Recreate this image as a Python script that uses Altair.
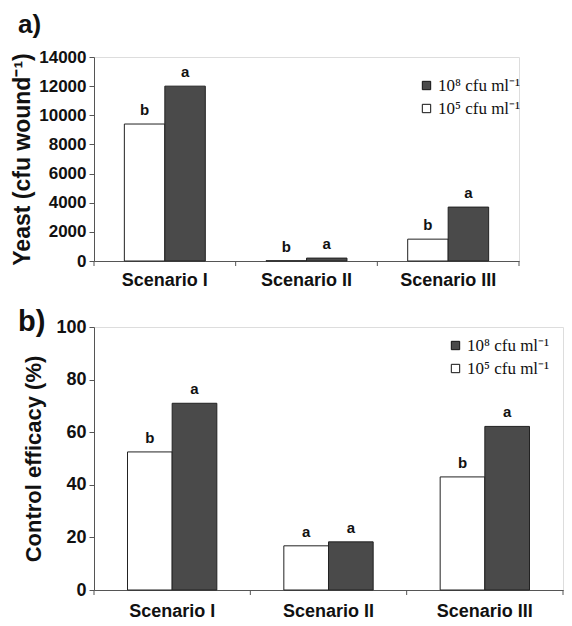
import altair as alt
import pandas as pd

SANS = "Liberation Sans"
SERIF = "Liberation Serif"

scenarios = ["Scenario I", "Scenario II", "Scenario III"]
doses = ["10⁵ cfu ml⁻¹", "10⁸ cfu ml⁻¹"]  # low, high

yeast_low = [9400, 20, 1500]
yeast_high = [12000, 200, 3700]
yeast_letters_low = ["b", "b", "b"]
yeast_letters_high = ["a", "a", "a"]

eff_low = [52.5, 16.8, 43.0]
eff_high = [71.0, 18.3, 62.2]
eff_letters_low = ["b", "a", "b"]
eff_letters_high = ["a", "a", "a"]


def make_df(low, high, ll, lh):
    rows = []
    for s, v, l in zip(scenarios, low, ll):
        rows.append({"scenario": s, "dose": doses[0], "value": v, "letter": l})
    for s, v, l in zip(scenarios, high, lh):
        rows.append({"scenario": s, "dose": doses[1], "value": v, "letter": l})
    return pd.DataFrame(rows)


def panel(df, ymax, ystep, ytitle, tag, w, h, lx, ly, tx, ty, tag_size,
          title_pad, lab_size, title_size, xlab_pad):
    xs = alt.Scale(paddingInner=0, paddingOuter=0)
    xo = alt.XOffset("dose:N", sort=doses,
                     scale=alt.Scale(paddingInner=0, paddingOuter=0.75))
    x = alt.X("scenario:N", sort=scenarios, title=None, scale=xs,
              axis=alt.Axis(labelAngle=0, ticks=False, labelFont=SANS,
                            labelFontSize=18, labelFontWeight="bold",
                            labelColor="#111", labelPadding=xlab_pad,
                            domainColor="#555", domainWidth=1))
    y = alt.Y("value:Q", title=ytitle,
              scale=alt.Scale(domain=[0, ymax], nice=False),
              axis=alt.Axis(values=list(range(0, ymax + 1, ystep)), grid=False,
                            format="d", labelOverlap=False,
                            labelFont=SANS, labelFontSize=lab_size,
                            labelFontWeight="bold", labelColor="#111",
                            tickSize=5, tickColor="#555", domainColor="#555",
                            labelPadding=3, titleFont=SANS,
                            titleFontSize=title_size,
                            titleFontWeight="bold", titleColor="#111",
                            titlePadding=title_pad))
    color = alt.Color("dose:N",
                      scale=alt.Scale(domain=[doses[1], doses[0]],
                                      range=["#4a4a4a", "#ffffff"]),
                      legend=alt.Legend(title=None, orient="none", legendX=lx,
                                        legendY=ly, symbolType="square",
                                        symbolSize=70, symbolStrokeColor="#111",
                                        symbolStrokeWidth=1, labelFont=SERIF,
                                        labelFontSize=17, labelColor="#111",
                                        rowPadding=5, labelOffset=3))
    bars = alt.Chart(df).mark_bar(stroke="#222", strokeWidth=1).encode(
        x=x, xOffset=xo, y=y, color=color)
    letters = alt.Chart(df).mark_text(
        baseline="alphabetic", dy=-9, font=SANS, fontWeight="bold",
        fontSize=15, color="#111").encode(
        x=x, xOffset=xo, y=y, text="letter:N")
    tick_df = pd.DataFrame({"scenario": scenarios})
    ticks = alt.Chart(tick_df).mark_rule(color="#555").encode(
        x=alt.X("scenario:N", sort=scenarios, bandPosition=0),
        y=alt.value(h), y2=alt.value(h + 5))
    end_df = pd.DataFrame({"scenario": [scenarios[-1]]})
    end_tick = alt.Chart(end_df).mark_rule(color="#555").encode(
        x=alt.X("scenario:N", sort=scenarios, bandPosition=1),
        y=alt.value(h), y2=alt.value(h + 5))
    tag_df = pd.DataFrame({"tag": [tag]})
    tag_txt = alt.Chart(tag_df).mark_text(
        align="left", baseline="alphabetic", font=SANS, fontWeight="bold",
        fontSize=tag_size, color="#111").encode(
        x=alt.value(tx), y=alt.value(ty), text="tag:N")
    return alt.layer(bars, letters, ticks, end_tick, tag_txt).properties(
        width=w, height=h)


df_a = make_df(yeast_low, yeast_high, yeast_letters_low, yeast_letters_high)
df_b = make_df(eff_low, eff_high, eff_letters_low, eff_letters_high)

pa = panel(df_a, 14000, 2000, "Yeast (cfu wound⁻¹)", "a)", 425, 204,
           324, 20, -76, -24, 26, 4, 17, 23, 10)
pb = panel(df_b, 100, 20, "Control efficacy (%)", "b)", 469, 263,
           353, 10, -76, 4, 29, 10, 18, 22, 12)

chart = alt.vconcat(pa, pb, spacing=17).resolve_scale(
    x="independent", y="independent", color="independent",
    xOffset="independent").resolve_legend(color="independent").properties(
    padding={"left": 3, "top": 3, "right": 0, "bottom": 0}).configure_view(
    stroke=None).configure(background="white")

chart.save("out.html", embed_options={"renderer": "svg", "actions": False})
